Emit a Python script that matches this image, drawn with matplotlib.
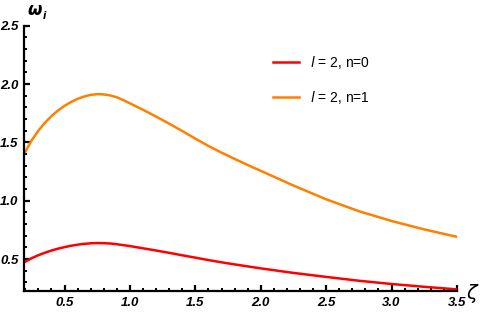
import numpy as np
import matplotlib
matplotlib.use('Agg')
import matplotlib.pyplot as plt
from matplotlib.ticker import MultipleLocator

# values
zeta = [0.2, 0.25, 0.3, 0.35, 0.4, 0.45, 0.5, 0.55, 0.6, 0.65, 0.7, 0.75,
        0.8, 0.85, 0.9, 0.95, 1.0, 1.1, 1.2, 1.3, 1.4, 1.5, 1.6, 1.7, 1.8,
        1.9, 2.0, 2.25, 2.5, 2.75, 3.0, 3.25, 3.5]
w_n0 = [0.477, 0.508, 0.533, 0.554, 0.573, 0.589, 0.602, 0.614, 0.623,
        0.630, 0.635, 0.637, 0.636, 0.633, 0.627, 0.619, 0.611, 0.592,
        0.573, 0.553, 0.532, 0.512, 0.491, 0.472, 0.454, 0.437, 0.420,
        0.381, 0.347, 0.314, 0.286, 0.262, 0.240]
w_n1 = [1.42, 1.52, 1.60, 1.668, 1.725, 1.773, 1.813, 1.846, 1.873, 1.893,
        1.907, 1.913, 1.911, 1.902, 1.886, 1.862, 1.834, 1.779, 1.721, 1.66,
        1.597, 1.532, 1.469, 1.412, 1.358, 1.306, 1.256, 1.13, 1.012, 0.91,
        0.826, 0.754, 0.69]
labels = [r'$\mathit{l}$ = 2, n=0', r'$\mathit{l}$ = 2, n=1']
colors = ['#ff0000', '#ff8000']

plt.rcParams['font.family'] = ['Liberation Sans', 'DejaVu Sans']

fig = plt.figure(figsize=(4.8, 3.17), dpi=100)
ax = fig.add_axes([0.05, 0.082, 0.902, 0.837])

ax.plot(zeta, w_n0, color=colors[0], lw=1.8, label=labels[0])
ax.plot(zeta, w_n1, color=colors[1], lw=1.8, label=labels[1])

ax.set_xlim(0.19, 3.5)
ax.set_ylim(0.226, 2.5)
ax.xaxis.set_major_locator(MultipleLocator(0.5))
ax.xaxis.set_minor_locator(MultipleLocator(0.1))
ax.yaxis.set_major_locator(MultipleLocator(0.5))
ax.yaxis.set_minor_locator(MultipleLocator(0.1))

for s in ['top', 'right']:
    ax.spines[s].set_visible(False)
for s in ['left', 'bottom']:
    ax.spines[s].set_linewidth(1.6)

ax.tick_params(which='major', direction='in', length=4, width=1.6, pad=4)
ax.tick_params(which='minor', direction='in', length=2.5, width=1.4)
for lab in ax.get_xticklabels() + ax.get_yticklabels():
    lab.set_fontweight('bold')
    lab.set_fontstyle('italic')
    lab.set_fontsize(9.5)

ax.legend(loc='upper left', bbox_to_anchor=(0.568, 0.83),
          bbox_transform=fig.transFigure, frameon=False, fontsize=10,
          handlelength=1.9, handletextpad=0.8, labelspacing=1.3,
          borderpad=0, borderaxespad=0)

fig.text(0.058, 0.968, 'ω', fontsize=12, fontweight='bold', fontstyle='italic',
         family='DejaVu Sans', va='center')
fig.text(0.089, 0.95, 'i', fontsize=7, fontweight='bold', fontstyle='italic',
         family='DejaVu Sans', va='center')
fig.text(0.985, 0.073, r'$\zeta$', fontsize=14, va='center', ha='center')

fig.savefig('out.png', dpi=100, facecolor='white')
